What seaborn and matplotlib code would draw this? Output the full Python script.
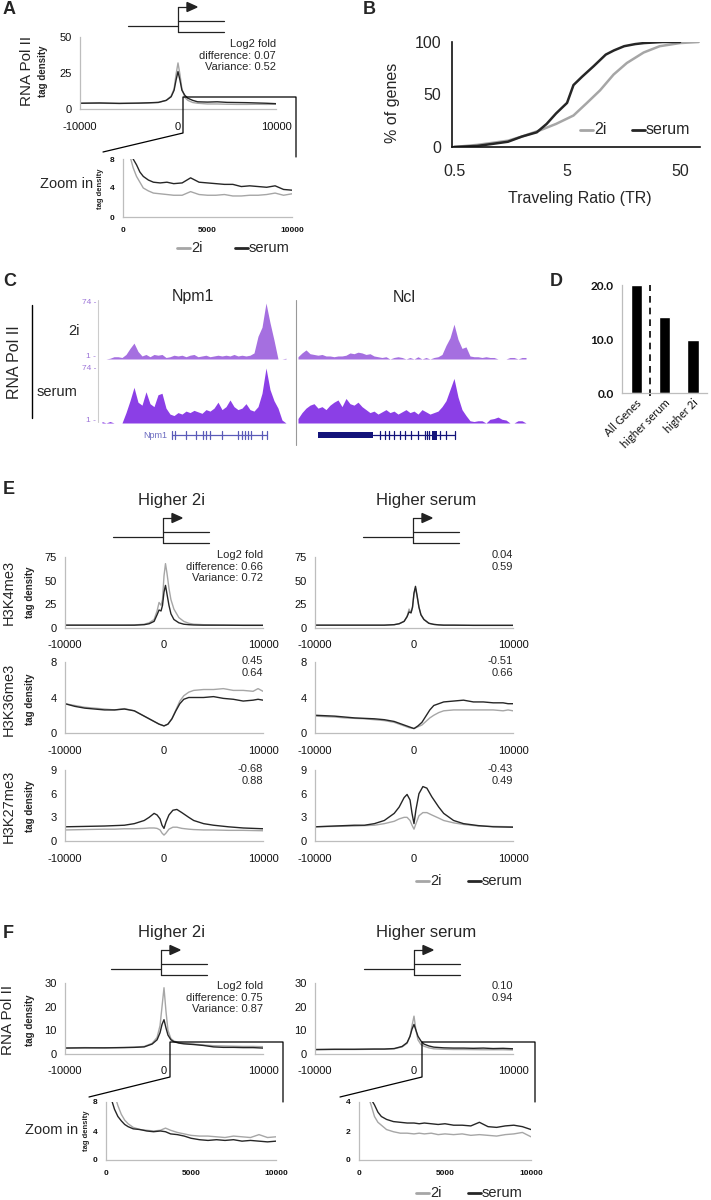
import numpy as np
import pandas as pd
import matplotlib.pyplot as plt
import seaborn as sns
from matplotlib.ticker import NullLocator

sns.set_style('white')
plt.rcParams['font.family'] = ['Liberation Sans', 'DejaVu Sans']
plt.rcParams['axes.unicode_minus'] = False

GRAY = '#a6a6a6'
DARK = '#262626'
PAL = {'2i': GRAY, 'serum': DARK}
AXC = '#bdbdbd'
PURPLE_2I = '#a56fe0'
PURPLE_SER = '#8b3fe6'
LAB = '#9c74d8'

# ---------------- data ----------------
# A: RNA Pol II, all genes
pos_a = [-10000, -8000, -6000, -4000, -3000, -2000, -1200, -700, -400, -200, 0, 200, 400,
         700, 1000, 1500, 2000, 3000, 4000, 5000, 6000, 7000, 8000, 9000, 10000]
a_2i = [4, 4, 3.8, 4, 4.2, 4.5, 6, 9, 14, 24, 32, 24, 14, 8, 6, 4.5, 4, 3.5, 3.5, 3.3, 3.2, 3.2, 3.3, 3.2, 3.3]
a_serum = [4, 4.2, 3.9, 4.1, 4.3, 4.6, 6, 8.5, 13, 20, 26, 20, 13, 9.5, 7.5, 6, 5, 4.8, 5, 4.6, 4.5, 4.4, 4.2, 4.0, 3.7]

pos_az = [400, 600, 800, 1000, 1200, 1500, 1800, 2200, 2600, 3000, 3500, 4000, 4500, 5000,
          5500, 6000, 6500, 7000, 7500, 8000, 8500, 9000, 9500, 10000]
az_2i = [8.5, 6.8, 5.6, 4.8, 4.0, 3.6, 3.3, 3.2, 3.1, 3.0, 3.0, 3.5, 3.1, 3.0, 3.0, 3.1, 2.9, 2.9,
         3.0, 3.0, 3.1, 3.3, 3.0, 3.2]
az_serum = [9.5, 8.0, 7.2, 6.2, 5.6, 5.1, 4.8, 4.7, 4.8, 4.6, 4.7, 5.4, 4.8, 4.7, 4.6, 4.5, 4.5, 4.2,
            4.3, 4.2, 4.1, 4.3, 3.8, 3.7]

# B: traveling ratio cumulative distribution
tr_2i = [0.5, 0.8, 1.1, 1.5, 2.0, 2.9, 4.0, 5.7, 7.5, 9.8, 12.9, 16.9, 23.8, 33, 50, 73]
pct_2i = [0, 2, 4, 6, 10, 16, 22, 30, 42, 54, 69, 80, 90, 96, 99, 100]
tr_serum = [0.5, 0.8, 1.1, 1.5, 2.0, 2.7, 3.3, 4.0, 5.0, 5.7, 6.8, 8.6, 11, 13, 16, 20, 24, 35, 50]
pct_serum = [0, 1, 3, 5, 10, 14, 22, 32, 42, 59, 67, 77, 88, 92, 96, 98, 99, 100, 100]

# C: browser tracks (binned Pol II signal, scale 1-74)
npm1_2i = [0, 0, 1, 3, 3, 2, 6, 14, 21, 10, 4, 6, 3, 6, 5, 6, 2, 3, 5, 4, 5, 3, 5, 6, 3, 4, 5, 3, 4,
           5, 4, 5, 4, 6, 4, 5, 4, 5, 8, 30, 42, 74, 48, 25, 0, 0, 1]
npm1_serum = [2, 0, 2, 0, 0, 0, 14, 30, 48, 28, 24, 42, 26, 22, 38, 40, 20, 12, 10, 14, 12, 16, 14,
              17, 15, 13, 18, 16, 20, 28, 18, 22, 31, 22, 18, 20, 26, 18, 16, 22, 40, 74, 45, 30, 20, 4, 0]
ncl_2i = [3, 8, 12, 7, 6, 5, 6, 4, 4, 3, 4, 4, 5, 8, 7, 9, 8, 6, 7, 4, 3, 2, 3, 0, 2, 3, 2, 0, 2, 0,
          3, 0, 2, 0, 2, 3, 6, 18, 28, 46, 26, 14, 16, 4, 3, 3, 2, 3, 2, 2, 0, 0, 0, 2, 2, 0, 2, 2]
ncl_serum = [6, 14, 20, 24, 26, 20, 22, 18, 24, 28, 31, 22, 33, 26, 24, 28, 22, 18, 14, 16, 12, 15,
             18, 14, 16, 12, 15, 18, 14, 16, 12, 18, 15, 12, 14, 16, 22, 30, 45, 60, 35, 18, 10, 3, 2,
             3, 3, 0, 5, 6, 8, 5, 4, 0, 0, 3, 3, 0]
npm1_exons = [172, 175, 186, 196, 203, 206, 210, 222, 238, 242, 245, 248, 251, 262, 267]
ncl_exons = [380, 385, 389, 394, 400, 405, 411, 418, 425, 427, 429, 440, 446, 455]

# D: bar chart
d_cats = ['All Genes', 'higher serum', 'higher 2i']
d_vals = [20.0, 14.1, 9.9]

# E: histone marks
pos_k4 = [-10000, -8000, -6000, -4000, -3000, -2000, -1500, -1000, -700, -500, -300, -150, 0, 150,
          300, 500, 700, 1000, 1500, 2000, 2500, 3000, 4000, 6000, 8000, 10000]
k4_hi2i_2i = [3, 3, 3, 3, 3.2, 4, 5.5, 9, 18, 27, 24, 30, 55, 68, 58, 42, 30, 20, 11, 7, 5, 4, 3.5, 3, 3, 3]
k4_hi2i_serum = [3, 3, 3, 3, 3, 3.5, 4.5, 7, 14, 19, 18, 24, 38, 45, 36, 24, 15, 9, 5.5, 4, 3.5, 3.2, 3, 3, 2.8, 2.8]
k4_hiser_2i = [3, 3, 3, 3, 3, 3.5, 4.5, 7, 12, 20, 16, 22, 36, 42, 34, 22, 14, 9, 5, 3.8, 3.3, 3, 3, 2.8, 2.8, 2.8]
k4_hiser_serum = [3, 3, 3, 3, 3, 3.5, 4.5, 7, 12, 17, 16, 22, 37, 44, 35, 22, 14, 9, 5, 3.8, 3.3, 3, 3, 2.8, 2.8, 2.8]

pos_k36 = [-10000, -9000, -8000, -7000, -6000, -5000, -4000, -3000, -2500, -2000, -1500, -1000, -500,
           0, 400, 800, 1200, 1600, 2000, 2500, 3000, 4000, 5000, 6000, 7000, 8000, 9000, 9500, 10000]
k36_hi2i_2i = [3.3, 3.1, 2.9, 2.8, 2.7, 2.6, 2.75, 2.5, 2.2, 1.9, 1.6, 1.3, 1.0, 0.8, 1.0, 1.6, 2.6, 3.6,
               4.2, 4.6, 4.8, 4.9, 4.9, 5.0, 4.8, 4.8, 4.7, 5.0, 4.7]
k36_hi2i_serum = [3.3, 3.0, 2.8, 2.7, 2.6, 2.6, 2.7, 2.5, 2.2, 1.9, 1.6, 1.3, 1.0, 0.8, 1.0, 1.6, 2.5, 3.3,
                  3.8, 4.0, 4.0, 4.0, 4.1, 3.9, 3.8, 3.6, 3.7, 3.8, 3.7]
k36_hiser_2i = [1.9, 1.85, 1.8, 1.7, 1.65, 1.6, 1.5, 1.4, 1.3, 1.2, 1.0, 0.8, 0.6, 0.5, 0.7, 0.9, 1.3, 1.7,
                2.0, 2.3, 2.5, 2.6, 2.6, 2.6, 2.6, 2.6, 2.5, 2.6, 2.5]
k36_hiser_serum = [2.0, 1.95, 1.9, 1.8, 1.7, 1.65, 1.6, 1.5, 1.4, 1.3, 1.1, 0.9, 0.7, 0.5, 0.8, 1.2, 1.9, 2.6,
                   3.1, 3.3, 3.5, 3.6, 3.7, 3.5, 3.5, 3.4, 3.4, 3.3, 3.3]

pos_k27 = [-10000, -8000, -6000, -5000, -4000, -3000, -2000, -1500, -1000, -700, -400, -200, 0, 200,
           500, 900, 1300, 1800, 2500, 3000, 4000, 5000, 6500, 8000, 10000]
k27_hi2i_2i = [1.4, 1.45, 1.5, 1.5, 1.55, 1.55, 1.6, 1.65, 1.65, 1.6, 1.4, 1.0, 0.75, 1.0, 1.5, 1.75,
               1.75, 1.6, 1.5, 1.45, 1.4, 1.4, 1.35, 1.35, 1.3]
k27_hi2i_serum = [1.8, 1.85, 1.9, 1.95, 2.0, 2.2, 2.6, 3.0, 3.5, 3.3, 2.8, 2.0, 1.6, 2.4, 3.3, 3.9, 4.0,
                  3.6, 3.0, 2.6, 2.2, 2.0, 1.8, 1.65, 1.55]
k27_hiser_2i = [1.8, 1.85, 1.9, 1.95, 2.0, 2.2, 2.5, 2.8, 3.0, 3.0, 2.6, 2.0, 1.5, 2.2, 3.2, 3.6, 3.6,
                3.3, 2.9, 2.6, 2.3, 2.1, 1.9, 1.85, 1.8]
k27_hiser_serum = [1.8, 1.9, 2.0, 2.0, 2.2, 2.6, 3.5, 4.3, 5.5, 5.9, 5.2, 3.5, 2.2, 4.0, 6.0, 6.9, 6.7,
                   5.6, 4.3, 3.5, 2.6, 2.2, 1.95, 1.8, 1.75]

# F: RNA Pol II, gene groups
pos_f = pos_a
f_hi2i_2i = [2.6, 2.7, 2.6, 2.8, 2.9, 3.2, 4.5, 7, 12, 20, 28, 18, 10, 6.5, 5.5, 4.8, 4.5, 4.2, 3.8,
             3.5, 3.4, 3.3, 3.2, 3.2, 3.1]
f_hi2i_serum = [2.5, 2.6, 2.6, 2.7, 2.8, 3.0, 4.2, 6, 9, 12.5, 14.5, 11, 8, 6, 5.2, 4.6, 4.3, 4.0, 3.6,
                3.0, 2.8, 2.8, 2.7, 2.7, 2.5]
f_hiser_2i = [1.8, 1.9, 1.9, 2.0, 2.0, 2.2, 3.0, 4.5, 7.5, 12, 16, 10, 6, 4, 3.3, 2.6, 2.2, 2.0, 1.9,
              1.9, 1.85, 1.8, 1.8, 1.8, 1.7]
f_hiser_serum = [1.9, 2.0, 2.0, 2.1, 2.1, 2.3, 3.2, 4.8, 7.5, 10.5, 12.5, 10, 7.5, 5.5, 4.2, 3.4, 2.9,
                 2.6, 2.5, 2.5, 2.4, 2.5, 2.3, 2.4, 2.2]

pos_fz = [300, 500, 700, 900, 1100, 1300, 1600, 2000, 2400, 2800, 3200, 3500, 3800, 4200, 4600,
          5000, 5500, 6000, 6500, 7000, 7500, 8000, 8500, 9000, 9500, 10000]
fz_hi2i_2i = [10, 9.0, 7.5, 6.3, 5.5, 5.0, 4.5, 4.2, 4.1, 4.0, 4.1, 4.4, 4.1, 3.8, 3.6, 3.4, 3.3, 3.3,
              3.2, 3.1, 3.3, 3.2, 3.1, 3.5, 3.1, 3.2]
fz_hi2i_serum = [8.5, 7.0, 6.0, 5.4, 4.9, 4.6, 4.3, 4.2, 4.0, 3.9, 4.0, 3.9, 3.6, 3.5, 3.3, 3.0, 2.8,
                 2.7, 2.8, 2.7, 2.8, 2.6, 2.7, 2.6, 2.5, 2.6]
fz_hiser_2i = [5, 4.5, 3.8, 3.0, 2.6, 2.4, 2.1, 1.95, 1.85, 1.85, 1.8, 1.85, 1.8, 1.85, 1.75, 1.8, 1.75,
               1.8, 1.7, 1.75, 1.7, 1.65, 1.75, 1.8, 1.9, 1.6]
fz_hiser_serum = [6, 5, 4.2, 3.8, 3.3, 3.0, 2.8, 2.65, 2.6, 2.55, 2.55, 2.5, 2.55, 2.5, 2.45, 2.5, 2.4,
                  2.4, 2.35, 2.6, 2.3, 2.25, 2.35, 2.4, 2.3, 2.1]

# ---------------- figure ----------------
fig = plt.figure(figsize=(7.11, 12), dpi=100)
ov = fig.add_axes([0, 0, 1, 1], zorder=5)
ov.set_xlim(0, 711)
ov.set_ylim(1200, 0)
ov.axis('off')


def box(x0, y0, x1, y1):
    return fig.add_axes([x0 / 711, 1 - y1 / 1200, (x1 - x0) / 711, (y1 - y0) / 1200])


def long_df(pos, a, b):
    return pd.DataFrame({'pos': list(pos) * 2, 'val': list(a) + list(b),
                         'cond': ['2i'] * len(a) + ['serum'] * len(b)})


def profile(bx, pos, a, b, ymax, yticks, xticks, fs=8, bold=False, pad=9, lw=1.0):
    ax = box(*bx)
    sns.lineplot(data=long_df(pos, a, b), x='pos', y='val', hue='cond', palette=PAL,
                 legend=False, linewidth=lw, estimator=None, ax=ax)
    ax.set_xlim(xticks[0], xticks[-1])
    ax.set_ylim(0, ymax)
    ax.set_xticks(xticks)
    ax.set_yticks(yticks)
    sns.despine(ax=ax)
    for s in ('left', 'bottom'):
        ax.spines[s].set_color(AXC)
        ax.spines[s].set_linewidth(0.9)
    ax.tick_params(axis='y', length=3, color=AXC, labelsize=fs, pad=3, labelcolor='#111111')
    ax.tick_params(axis='x', length=0, labelsize=fs, pad=pad, labelcolor='#111111')
    if bold:
        for t in ax.get_xticklabels() + ax.get_yticklabels():
            t.set_fontweight('bold')
    ax.set_xlabel('')
    ax.set_ylabel('')
    return ax


def tss(x, top, lw=0.9, c='#222222'):
    ov.plot([x - 50, x], [top + 19, top + 19], color=c, lw=lw)
    ov.plot([x, x], [top, top + 25], color=c, lw=lw)
    ov.plot([x, x + 46], [top + 14, top + 14], color=c, lw=lw)
    ov.plot([x, x + 46], [top + 25, top + 25], color=c, lw=lw)
    ov.plot([x, x + 9], [top, top], color=c, lw=lw)
    ov.fill([x + 9, x + 19, x + 9], [top - 4.5, top, top + 4.5], color=c)


def legend_at(x, y, gap=52, fs=10):
    ov.plot([x, x + 13], [y, y], color=GRAY, lw=2)
    ov.text(x + 14, y, '2i', va='center', fontsize=fs)
    ov.plot([x + gap, x + gap + 13], [y, y], color=DARK, lw=2)
    ov.text(x + gap + 14, y, 'serum', va='center', fontsize=fs)


def stats(x, y, lines, fs=8):
    for i, s in enumerate(lines):
        ov.text(x, y + i * 11.7, s, ha='right', va='center', fontsize=fs)


def letter(x, y, s):
    ov.text(x, y, s, fontsize=13, fontweight='bold', va='center', ha='left')


def vlabel(x, y, s, fs=10.5, bold=False):
    ov.text(x, y, s, rotation=90, ha='center', va='center', fontsize=fs,
            fontweight='bold' if bold else 'normal')


XT = [-10000, 0, 10000]
ZT = [0, 5000, 10000]

# ---- A ----
letter(3, 10, 'A')
tss(178, 7)
profile((80, 37, 276, 109), pos_a, a_2i, a_serum, 50, [0, 25, 50], XT)
stats(276, 44, ['Log2 fold', 'difference: 0.07', 'Variance: 0.52'])
vlabel(27, 71, 'RNA Pol II', fs=11)
vlabel(43, 71, 'tag density', fs=7, bold=True)
profile((123, 159, 292, 217), pos_az, az_2i, az_serum, 8, [0, 4, 8], ZT, fs=6, bold=True, pad=7)
vlabel(100, 189, 'tag density', fs=5.5, bold=True)
ov.text(40, 184, 'Zoom in', fontsize=10.5, va='center')
ov.plot([103, 183, 183, 296, 296], [152, 133, 97, 97, 157], color='k', lw=0.9)
legend_at(177, 248, gap=58, fs=10.5)

# ---- B ----
letter(363, 10, 'B')
axb = box(452, 42, 700, 147)
df_b = pd.DataFrame({'tr': tr_2i + tr_serum, 'pct': pct_2i + pct_serum,
                     'cond': ['2i'] * len(tr_2i) + ['serum'] * len(tr_serum)})
sns.lineplot(data=df_b, x='tr', y='pct', hue='cond', palette=PAL, legend=False,
             linewidth=1.8, estimator=None, ax=axb)
axb.set_xscale('log')
axb.set_xlim(0.48, 75)
axb.set_ylim(0, 100)
axb.set_xticks([0.5, 5, 50])
axb.set_xticklabels(['0.5', '5', '50'])
axb.xaxis.set_minor_locator(NullLocator())
axb.set_yticks([0, 25, 50, 75, 100])
axb.set_yticklabels(['0', '', '50', '', '100'])
sns.despine(ax=axb)
for s in ('left', 'bottom'):
    axb.spines[s].set_color('#111111')
    axb.spines[s].set_linewidth(1.2)
axb.tick_params(length=4, width=1.1, color='#111111', labelsize=11.5, direction='out')
axb.tick_params(axis='x', pad=8)
axb.set_xlabel('')
axb.set_ylabel('')
vlabel(393, 103, '% of genes', fs=11.5)
ov.text(580, 198, 'Traveling Ratio (TR)', ha='center', va='center', fontsize=11.5)
legend_at(580, 130, gap=52, fs=11.5)

# ---- C ----
letter(3, 281, 'C')
ov.text(193, 297, 'Npm1', ha='center', va='center', fontsize=11.5)
ov.text(404, 297, 'Ncl', ha='center', va='center', fontsize=11.5)
ov.text(74, 331, '2i', ha='center', va='center', fontsize=10.5)
ov.text(37, 392, 'serum', ha='left', va='center', fontsize=10.5)
vlabel(15, 362, 'RNA Pol II', fs=11.5)
ov.plot([32, 32], [305, 418], color='k', lw=1)
ov.plot([98, 98], [300, 422], color='#cccccc', lw=0.8)
ov.plot([296, 296], [300, 445], color='#999999', lw=0.8)


def track(x0, x1, y0, y1, vals, color, xl):
    ax = box(x0, y0, x1, y1)
    ax.fill_between(np.arange(len(vals)), vals, color=color, lw=0)
    ax.set_xlim(*xl)
    ax.set_ylim(0, 74)
    ax.axis('off')
    return ax


track(98, 296, 303, 359, npm1_2i, PURPLE_2I, (-1, 48.5))
track(296, 530, 303, 359, ncl_2i, PURPLE_2I, (-0.5, 58))
track(98, 296, 368, 423, npm1_serum, PURPLE_SER, (-1, 48.5))
track(296, 530, 368, 423, ncl_serum, PURPLE_SER, (-0.5, 58))
for yy, s in [(303, '74 -'), (357, '1 -'), (368, '74 -'), (421, '1 -')]:
    ov.text(96, yy, s, ha='right', va='center', fontsize=6, color=LAB)

ov.text(155, 435, 'Npm1', ha='center', va='center', fontsize=6.5, color='#6b6bc0')
ov.plot([172, 267], [435, 435], color='#5a5ab8', lw=0.9)
for e in npm1_exons:
    ov.plot([e, e], [431, 439], color='#5a5ab8', lw=0.9)
ov.fill_between([318, 373], 432, 438, color='#14147a', lw=0)
ov.plot([373, 455], [435, 435], color='#14147a', lw=0.9)
for e in ncl_exons:
    ov.plot([e, e], [431, 439], color='#14147a', lw=0.9)
ov.fill_between([432, 437], 430.5, 439.5, color='#14147a', lw=0)

# ---- D ----
letter(550, 281, 'D')
axd = box(622, 285, 707, 393)
sns.barplot(x=d_cats, y=d_vals, color='black', width=0.4, saturation=1, ax=axd)
axd.set_ylim(0, 20)
axd.set_yticks([0, 10, 20])
axd.set_yticklabels(['0.0', '10.0', '20.0'], fontweight='bold', family='Lato')
axd.set_xticks([0, 1, 2])
axd.set_xticklabels(d_cats, rotation=45, ha='right', rotation_mode='anchor', fontsize=8, family='Lato')
axd.axvline(0.5, ymin=-0.03, ymax=1, ls=(0, (4, 3)), color='k', lw=1.2, clip_on=False)
sns.despine(ax=axd)
for s in ('left', 'bottom'):
    axd.spines[s].set_color(AXC)
    axd.spines[s].set_linewidth(0.9)
axd.tick_params(axis='y', length=3, color=AXC, labelsize=8.5, pad=3, labelcolor='#111111')
axd.tick_params(axis='x', length=0, pad=3, labelcolor='#111111')
axd.set_xlabel('')
axd.set_ylabel('')

# ---- E ----
letter(3, 490, 'E')
ov.text(172, 500, 'Higher 2i', ha='center', va='center', fontsize=12)
ov.text(426, 500, 'Higher serum', ha='center', va='center', fontsize=12)
tss(163, 518)
tss(413, 518)
LX, RX = (65, 263), (315, 513)
rows = [(557, 628, 75, [0, 25, 50, 75], pos_k4, k4_hi2i_2i, k4_hi2i_serum, k4_hiser_2i, k4_hiser_serum),
        (662, 733, 8, [0, 4, 8], pos_k36, k36_hi2i_2i, k36_hi2i_serum, k36_hiser_2i, k36_hiser_serum),
        (770, 841, 9, [0, 3, 6, 9], pos_k27, k27_hi2i_2i, k27_hi2i_serum, k27_hiser_2i, k27_hiser_serum)]
for y0, y1, ym, yt, pos, l2, ls, r2, rs in rows:
    profile((LX[0], y0, LX[1], y1), pos, l2, ls, ym, yt, XT)
    profile((RX[0], y0, RX[1], y1), pos, r2, rs, ym, yt, XT)
stats(263, 555, ['Log2 fold', 'difference: 0.66', 'Variance: 0.72'])
stats(513, 555, ['0.04', '0.59'])
stats(263, 661, ['0.45', '0.64'])
stats(513, 661, ['-0.51', '0.66'])
stats(263, 769, ['-0.68', '0.88'])
stats(513, 769, ['-0.43', '0.49'])
for yc, s in [(592, 'H3K4me3'), (699, 'H3K36me3'), (806, 'H3K27me3')]:
    vlabel(9, yc, s, fs=10.5)
    vlabel(30, yc, 'tag density', fs=7, bold=True)
legend_at(416, 881, gap=52, fs=10.5)

# ---- F ----
letter(3, 933, 'F')
ov.text(172, 932, 'Higher 2i', ha='center', va='center', fontsize=12)
ov.text(426, 932, 'Higher serum', ha='center', va='center', fontsize=12)
tss(161, 950)
tss(414, 950)
profile((65, 983, 263, 1054), pos_f, f_hi2i_2i, f_hi2i_serum, 30, [0, 10, 20, 30], XT)
profile((315, 983, 513, 1054), pos_f, f_hiser_2i, f_hiser_serum, 30, [0, 10, 20, 30], XT)
stats(263, 986, ['Log2 fold', 'difference: 0.75', 'Variance: 0.87'])
stats(513, 986, ['0.10', '0.94'])
vlabel(8, 1020, 'RNA Pol II', fs=11)
vlabel(30, 1020, 'tag density', fs=7, bold=True)
profile((106, 1102, 276, 1160), pos_fz, fz_hi2i_2i, fz_hi2i_serum, 8, [0, 4, 8], ZT, fs=6, bold=True, pad=7)
profile((359, 1102, 531, 1160), pos_fz, fz_hiser_2i, fz_hiser_serum, 4, [0, 2, 4], ZT, fs=6, bold=True, pad=7)
vlabel(86, 1131, 'tag density', fs=5.5, bold=True)
ov.text(25, 1130, 'Zoom in', fontsize=10.5, va='center')
ov.plot([89, 170, 170, 283, 283], [1097, 1077, 1042, 1042, 1102], color='k', lw=0.9)
ov.plot([340, 422, 422, 535, 535], [1097, 1077, 1042, 1042, 1102], color='k', lw=0.9)
legend_at(416, 1193, gap=52, fs=10.5)

fig.savefig('out.png', dpi=100, facecolor='white')
